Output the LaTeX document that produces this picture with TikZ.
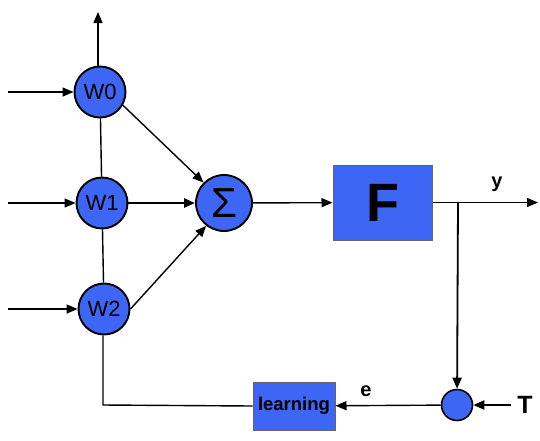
\documentclass[tikz,border=0pt]{standalone}
\usepackage{fontspec}
\setmainfont{Liberation Sans}
\usetikzlibrary{arrows.meta,calc}
\definecolor{nodeblue}{RGB}{62,102,245}
\tikzstyle{arrow} = [line width=1.4pt,-{Triangle[length=11pt,width=9pt]}]
\tikzstyle{weight} = [circle,draw,line width=1.9pt,fill=nodeblue,minimum size=51pt,inner sep=0pt,font=\fontsize{22}{22}\selectfont]
\tikzstyle{block} = [rectangle,draw=black!60,line width=1pt,fill=nodeblue,inner sep=0pt]
\tikzstyle{label} = [font=\bfseries\fontsize{20}{20}\selectfont]

\begin{document}
\begin{tikzpicture}[x=1pt,y=-1pt]
	\useasboundingbox (0,0) rectangle (540,440);
	
	\node[weight] (w0) at (100,92) {W0};
	\node[weight] (w1) at (102,203) {W1};
	\node[weight] (w2) at (104,309) {W2};
	\node[weight,minimum size=56pt,font=\fontsize{42}{42}\selectfont] (sum) at (224,203) {Σ};
	\node[block,minimum width=99pt,minimum height=75pt,font=\bfseries\fontsize{54}{54}\selectfont] (F) at (382.5,202.5) {F};
	\node[block,minimum width=82pt,minimum height=48pt,font=\bfseries\fontsize{18.5}{18.5}\selectfont] (learn) at (294,406) {learning};
	\node[circle,draw,line width=1.6pt,fill=nodeblue,minimum size=31pt,inner sep=0pt] (err) at (457,405) {};
	
	\coordinate (in0) at (8,92);
	\coordinate (in1) at (8,203);
	\coordinate (in2) at (8,309);
	\coordinate (top) at (98,12);
	\coordinate (split) at (458,202.5);
	\coordinate (out) at (538,202.5);
	\coordinate (corner) at (103,405);
	\coordinate (target) at (511,405);
	
	\node[label] (ylab) at (497,184) {y};
	\node[label] (elab) at (366,391) {e};
	\node[label,font=\bfseries\fontsize{25}{25}\selectfont] (tlab) at (525,405) {T};
	
	\draw[arrow] (in0) -- (w0);
	\draw[arrow] (in1) -- (w1);
	\draw[arrow] (in2) -- (w2);
	\draw[arrow] (w0.north -| top) -- (top);
	\draw[line width=1.4pt] (w0) -- (w1) (w1) -- (w2);
	\draw[arrow] (w0.-30) -- (sum.135);
	\draw[arrow,line width=2.4pt] (w1) -- (sum);
	\draw[arrow] (w2.east) -- (sum.-128);
	\draw[arrow] (sum) -- (F);
	\draw[arrow] (F) -- (out);
	\draw[arrow,line width=1.8pt] (split) -- (err);
	\draw[arrow,line width=1.8pt] (target) -- (err);
	\draw[arrow] (err) -- (learn);
	\draw[line width=1.4pt] (learn.west) -- (corner) -- (w2.south -| corner);
\end{tikzpicture}
\end{document}
